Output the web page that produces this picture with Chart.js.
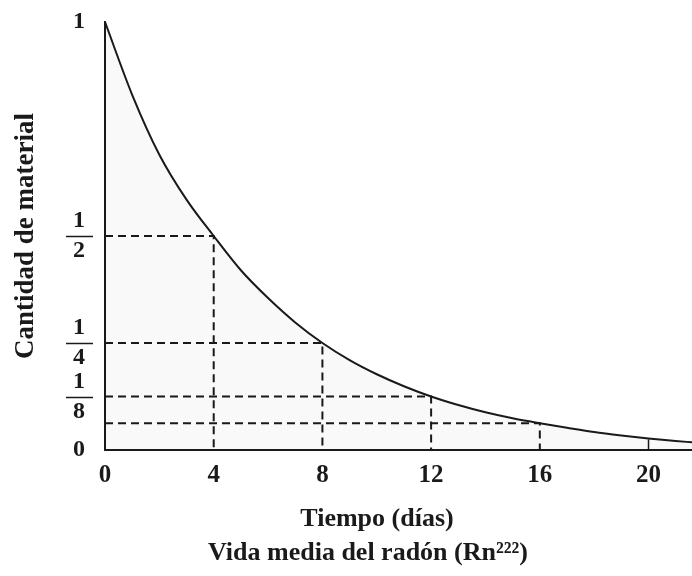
<!DOCTYPE html>
<html>
<head>
<meta charset="utf-8">
<script src="https://cdn.jsdelivr.net/npm/chart.js@4"></script>
<style>
  html, body { margin: 0; padding: 0; background: #fff; }
  #wrap { width: 692px; height: 576px; }
</style>
</head>
<body>
<div id="wrap"><canvas id="chart"></canvas></div>
<script>
/* ===== DATA ===== */
const days = [0, 1, 2, 3, 4, 5, 6, 7, 8, 9, 10, 11, 12, 13, 14, 15, 16, 17, 18, 19, 20, 21, 21.6];
const amount = [1, 0.83, 0.69, 0.585, 0.5, 0.42, 0.355, 0.298, 0.25, 0.21, 0.177, 0.149, 0.125,
  0.105, 0.088, 0.074, 0.0625, 0.052, 0.042, 0.034, 0.027, 0.021, 0.018];
const halfTimes = [4, 8, 12, 16];
const halfLevels = [0.5, 0.25, 0.125, 0.0625];
const markTime = 20;
const markLevel = 0.025;
const xTicks = [0, 4, 8, 12, 16, 20];
const yTicks = [0, 0.125, 0.25, 0.5, 1];
const yTickLabels = ["0", ["1", "8"], ["1", "4"], ["1", "2"], "1"];
const fractionTicks = [0.125, 0.25, 0.5];
const xTitle = "Tiempo (días)";
const caption = "Vida media del radón (Rn²²²)";

const INK = "#1a1a1a";
const SERIF = "'Liberation Serif', 'DejaVu Serif', serif";

/* ===== DATASETS ===== */
const curve = {
  data: days.map((d, i) => ({ x: d, y: amount[i] })),
  borderColor: INK,
  borderWidth: 2,
  backgroundColor: "rgba(0,0,0,0.025)",
  fill: "origin",
  pointRadius: 0,
  cubicInterpolationMode: "monotone"
};

const guides = halfTimes.map((t, i) => ({
  data: [{ x: 0, y: halfLevels[i] }, { x: t, y: halfLevels[i] }, { x: t, y: 0 }],
  borderColor: INK,
  borderWidth: 2,
  borderDash: [8, 5],
  pointRadius: 0,
  fill: false,
  tension: 0
}));

const mark20 = {
  data: [{ x: markTime, y: markLevel }, { x: markTime, y: 0 }],
  borderColor: INK,
  borderWidth: 1.5,
  pointRadius: 0,
  fill: false
};

/* ===== EXTRA DRAWING: fraction bars + bottom texts ===== */
const extras = {
  id: "extras",
  afterDraw(chart) {
    const ctx = chart.ctx;
    const y = chart.scales.y;
    ctx.save();
    ctx.strokeStyle = INK;
    ctx.lineWidth = 1.5;
    fractionTicks.forEach(v => {
      const py = Math.round(y.getPixelForValue(v)) + 0.5;
      ctx.beginPath();
      ctx.moveTo(66, py);
      ctx.lineTo(93, py);
      ctx.stroke();
    });

    ctx.fillStyle = INK;
    ctx.textAlign = "center";
    ctx.textBaseline = "middle";
    ctx.font = "bold 26px " + SERIF;
    ctx.fillText(xTitle, 377, 519);
    ctx.fillText(caption, 368, 553);
    ctx.restore();
  }
};

/* ===== CHART ===== */
new Chart(document.getElementById("chart"), {
  type: "line",
  data: { datasets: [curve, ...guides, mark20] },
  options: {
    responsive: true,
    maintainAspectRatio: false,
    animation: false,
    layout: { padding: { top: 22, right: 0, left: 0, bottom: 0 } },
    plugins: { legend: { display: false }, tooltip: { enabled: false } },
    scales: {
      x: {
        type: "linear",
        min: 0,
        max: 21.6,
        afterBuildTicks: s => { s.ticks = xTicks.map(v => ({ value: v })); },
        afterFit: s => { s.height = 126; s.paddingRight = 0; },
        grid: { display: false, drawTicks: false },
        border: { display: true, color: INK, width: 2 },
        ticks: {
          color: INK,
          padding: 11,
          maxRotation: 0,
          font: { family: SERIF, size: 25, weight: "bold" }
        }
      },
      y: {
        type: "linear",
        min: 0,
        max: 1,
        afterBuildTicks: s => { s.ticks = yTicks.map(v => ({ value: v })); },
        afterFit: s => { s.width = 105; s.paddingTop = 0; s.paddingBottom = 0; },
        grid: { display: false, drawTicks: false },
        border: { display: true, color: INK, width: 2 },
        ticks: {
          color: INK,
          padding: 20,
          callback: (v) => yTickLabels[yTicks.indexOf(v)],
          font: { family: SERIF, size: 24, weight: "bold", lineHeight: 1.25 }
        },
        title: {
          display: true,
          text: "Cantidad de material",
          color: INK,
          padding: { top: 10, bottom: 0 },
          font: { family: SERIF, size: 27, weight: "bold" }
        }
      }
    }
  },
  plugins: [extras]
});
</script>
</body>
</html>
